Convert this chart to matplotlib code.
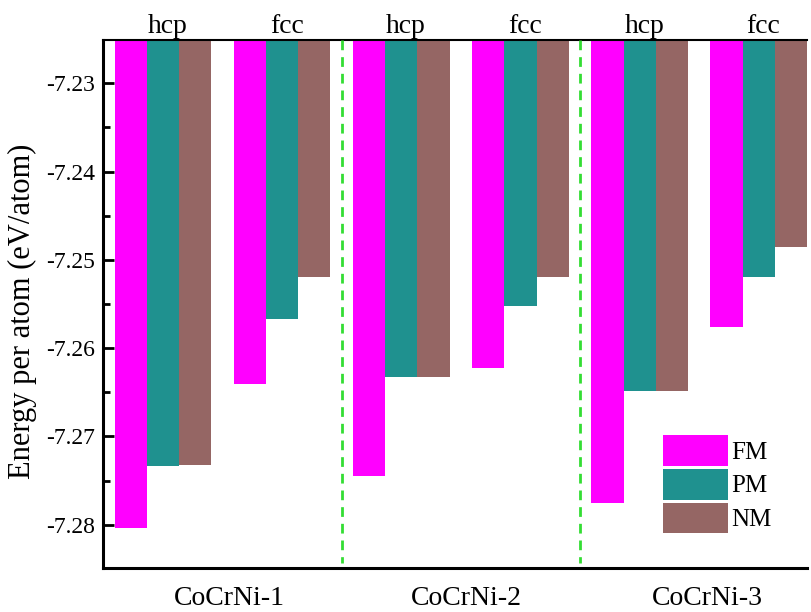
import matplotlib
matplotlib.use("Agg")
import matplotlib.pyplot as plt
from matplotlib.ticker import MultipleLocator
from matplotlib.patches import Patch
from matplotlib.transforms import blended_transform_factory

plt.rcParams['font.family'] = ['Liberation Serif', 'DejaVu Serif']

alloys = ["CoCrNi-1", "CoCrNi-2", "CoCrNi-3"]
structures = ["hcp", "fcc"]
states = ["FM", "PM", "NM"]
# energies per atom (eV/atom), order: alloy -> structure (hcp, fcc)
FM = [-7.2804, -7.2641, -7.2745, -7.2623, -7.2775, -7.2576]
PM = [-7.2734, -7.2567, -7.2633, -7.2552, -7.2649, -7.2519]
NM = [-7.2732, -7.2519, -7.2633, -7.2519, -7.2649, -7.2486]
colors = ["#FF00FF", "#1F918F", "#956664"]

ytop = -7.2251
ybot = -7.2849

fig = plt.figure(figsize=(8.11, 6.12), dpi=100)
ax = fig.add_axes([103/811, 44/612, (807-103)/811, (568-40)/612])

w = 0.27
xs = list(range(6))
for i, (vals, c, lab) in enumerate(zip([FM, PM, NM], colors, states)):
    pos = [x + (i - 1) * w for x in xs]
    ax.bar(pos, [v - ytop for v in vals], bottom=ytop, width=w, color=c,
           edgecolor='none', label=lab, align='center')

ax.set_ylim(ybot, ytop)
ax.set_xlim(-0.504, 5.405)

for xd in [1.5, 3.5]:
    ax.plot([xd, xd], [ytop, ybot + 0.0006], color='#33DD33', lw=2,
            linestyle=(0, (3.5, 2.5)), zorder=3)

# structure labels on top
trans = blended_transform_factory(ax.transData, ax.transAxes)
for k in range(6):
    ax.annotate(structures[k % 2], xy=(k + 0.04, 1.0), xycoords=trans,
                xytext=(0, 1), textcoords='offset points', ha='center',
                va='bottom', fontsize=20)

ax.set_xticks([0.56, 2.55, 4.57])
ax.set_xticklabels(alloys, fontsize=20)
ax.tick_params(axis='x', length=0, pad=13)

ax.yaxis.set_major_locator(MultipleLocator(0.01))
ax.yaxis.set_minor_locator(MultipleLocator(0.005))
ax.set_yticks([-7.23, -7.24, -7.25, -7.26, -7.27, -7.28])
ax.set_yticklabels(["-7.23", "-7.24", "-7.25", "-7.26", "-7.27", "-7.28"], fontsize=17)
ax.tick_params(axis='y', which='major', direction='in', length=8, width=2, pad=6)
ax.tick_params(axis='y', which='minor', direction='in', length=5, width=2)
ax.set_ylabel("Energy per atom (eV/atom)", fontsize=22)
ax.yaxis.set_label_coords(-(103 - 37) / 704, 0.487)

ax.spines['right'].set_visible(False)
ax.spines['left'].set_linewidth(2.2)
ax.spines['bottom'].set_linewidth(2.2)
ax.spines['top'].set_linewidth(1.5)

handles = [Patch(facecolor=c, edgecolor='none') for c in colors]
ax.legend(handles, states, loc='upper left', bbox_to_anchor=(0.795, 0.252),
          frameon=False, fontsize=18, handlelength=2.6, handleheight=1.52,
          labelspacing=0.12, handletextpad=0.16, borderpad=0, borderaxespad=0)

fig.savefig("out.png", dpi=100)
